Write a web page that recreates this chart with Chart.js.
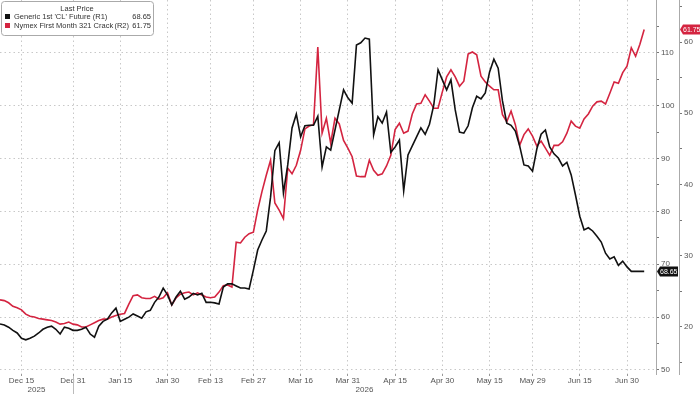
<!DOCTYPE html>
<html>
<head>
<meta charset="utf-8">
<script src="https://cdn.jsdelivr.net/npm/chart.js@4.4.1/dist/chart.umd.min.js"></script>
<style>
  html,body{margin:0;padding:0;background:#fff}
  #wrap{width:700px;height:394px;position:relative}
</style>
</head>
<body>
<div id="wrap"><canvas id="c" width="700" height="394"></canvas></div>
<script>
/* ---- data (one value per trading day, starting startDate) ---- */
const startDate='2025-12-08';
const clFuture=[58.7,58.5,58.1,57.5,57.0,56.0,55.7,56.0,56.4,57.0,
  57.7,58.1,58.3,57.7,56.8,58.1,57.9,57.5,57.5,57.7,
  58.1,56.8,56.2,58.3,59.2,59.6,60.8,61.7,59.2,59.6,
  60.0,60.6,60.2,59.8,61.0,61.3,62.8,63.8,65.5,64.2,
  62.3,63.8,64.9,63.4,63.8,64.5,64.2,64.5,62.8,62.8,
  62.7,62.5,65.7,66.3,66.3,65.9,65.5,65.5,65.3,68.9,
  72.7,74.6,76.3,82.7,91.5,93.0,83.5,88.8,95.8,98.4,
  94.1,96.2,96.3,96.3,98.0,88.4,92.2,91.6,95.4,99.2,
  103.0,101.5,100.5,111.5,111.9,112.8,112.6,94.5,97.9,96.7,
  98.8,91.2,92.2,93.5,83.9,90.7,92.4,94.1,95.8,94.6,
  96.5,100.1,106.8,104.9,103.0,104.9,99.2,95.0,94.8,96.2,
  99.6,101.8,101.3,102.4,106.4,108.8,107.1,100.9,96.7,96.3,
  95.2,92.4,88.8,88.6,87.6,91.8,94.6,95.4,92.2,90.9,
  90.1,88.6,89.3,86.9,83.1,79.1,76.5,76.9,76.3,75.3,
  74.2,72.1,71.0,71.4,69.8,70.6,69.5,68.65,68.65,68.65,
  68.65];
const crack321=[23.8,23.7,23.4,22.9,22.7,22.4,21.8,21.5,21.4,21.2,
  21.1,21.0,20.9,20.7,20.4,20.5,20.7,20.4,20.3,20.0,
  20.0,20.3,20.6,20.9,21.1,21.1,21.4,21.6,21.8,21.9,
  23.2,24.4,24.5,24.1,24.0,24.0,24.3,23.9,24.1,24.8,
  23.1,24.1,24.6,24.8,24.9,24.5,24.8,24.5,24.2,24.1,
  24.2,24.9,25.8,25.9,25.6,31.9,31.8,32.6,33.1,33.3,
  36.4,39.0,41.3,43.4,37.4,36.4,35.2,42.3,41.5,42.7,
  44.8,47.8,48.2,48.4,59.3,47.2,49.3,45.8,49.3,48.5,
  46.2,45.1,43.9,41.2,41.1,41.1,43.4,42.0,41.3,41.5,
  42.6,44.1,47.7,48.6,47.2,47.5,49.9,51.3,51.4,52.6,
  51.7,50.7,50.7,53.0,55.1,56.1,55.1,53.8,54.5,58.3,
  58.6,58.2,55.2,54.4,53.8,53.3,53.3,49.8,48.8,50.3,
  48.4,45.5,47.0,47.8,46.8,45.4,46.1,45.1,44.1,45.5,
  45.5,46.0,47.2,48.9,48.2,47.9,49.2,49.9,51.0,51.6,
  51.7,51.3,52.8,54.4,54.2,55.7,56.6,59.2,58.0,59.7,
  61.75];
const tickDates=['2025-12-15','2025-12-31','2026-01-15','2026-01-30','2026-02-13','2026-02-27',
  '2026-03-16','2026-03-31','2026-04-15','2026-04-30','2026-05-15','2026-05-29','2026-06-15','2026-06-30'];
const tickLabels=['Dec 15','Dec 31','Jan 15','Jan 30','Feb 13','Feb 27','Mar 16','Mar 31',
  'Apr 15','Apr 30','May 15','May 29','Jun 15','Jun 30'];
const yearLabels=['2025','2026'];
const r1Ticks=[50,55,60,65,70,75,80,85,90,95,100,105,110,115];
const r2Ticks=[15,20,25,30,35,40,45,50,55,60,65];
const seriesNames=["Generic 1st 'CL' Future (R1)",'Nymex First Month 321 Crack'];
const lastCL=68.65, lastCrack=61.75;

/* ---- helpers ---- */
function bizDays(start,n){
  const out=[];const d=new Date(start+'T00:00:00Z');
  while(out.length<n){const w=d.getUTCDay();if(w>0&&w<6)out.push(d.toISOString().slice(0,10));d.setUTCDate(d.getUTCDate()+1);}
  return out;
}
const dates=bizDays(startDate,clFuture.length);
const tickIdx=tickDates.map(d=>dates.indexOf(d));
const sepIdx=dates.findIndex(d=>d.slice(0,4)===yearLabels[1])-1;
const FONT="'Liberation Sans', Arial, sans-serif";
const gridCol='#c8c8c8', txtCol='#555', RED='#d42440', BLK='#111';
const noPad=s=>{s.paddingTop=0;s.paddingBottom=0;s.paddingLeft=0;s.paddingRight=0;};
const fmt=v=>v.toFixed(2);

function tag(ctx,x0,x1,yc,bg,text){
  ctx.fillStyle=bg;ctx.beginPath();
  ctx.moveTo(x0,yc);ctx.lineTo(x0+3,yc-5);ctx.lineTo(x1,yc-5);ctx.lineTo(x1,yc+5);ctx.lineTo(x0+3,yc+5);ctx.closePath();ctx.fill();
  ctx.fillStyle='#fff';ctx.font='7px '+FONT;ctx.textAlign='left';ctx.textBaseline='middle';
  ctx.fillText(text,x0+3,yc+0.5);
}

const extras={
  id:'extras',
  afterDraw(chart){
    const {ctx,chartArea:a,scales:{x,y,y2}}=chart;
    ctx.save();
    // year row + separator
    const xs=x.getPixelForValue(sepIdx);
    ctx.strokeStyle='#bbb';ctx.lineWidth=1;ctx.beginPath();ctx.moveTo(Math.round(xs)+0.5,a.bottom+2);ctx.lineTo(Math.round(xs)+0.5,394);ctx.stroke();
    ctx.fillStyle=txtCol;ctx.font='8px '+FONT;ctx.textAlign='center';ctx.textBaseline='middle';
    ctx.fillText(yearLabels[0],(a.left+xs)/2,390);
    ctx.fillText(yearLabels[1],(xs+a.right)/2,390);
    // last value tags
    tag(ctx,y.left+1,y2.left-1,y.getPixelForValue(lastCL),BLK,fmt(lastCL));
    tag(ctx,y2.left+1,702,y2.getPixelForValue(lastCrack),RED,fmt(lastCrack));
    // legend box
    ctx.fillStyle='#fff';ctx.strokeStyle='#aaa';ctx.lineWidth=1;
    ctx.beginPath();ctx.roundRect(1.5,1.5,152,34,3);ctx.fill();ctx.stroke();
    ctx.fillStyle='#333';ctx.font='7.5px '+FONT;ctx.textBaseline='middle';
    ctx.textAlign='center';ctx.fillText('Last Price',77,9);
    ctx.fillStyle=BLK;ctx.fillRect(5,14,5,5);
    ctx.fillStyle=RED;ctx.fillRect(5,23,5,5);
    ctx.fillStyle='#333';ctx.textAlign='left';
    ctx.fillText(seriesNames[0],14,17);
    ctx.fillText(seriesNames[1],14,26);
    ctx.textAlign='right';
    ctx.fillText('(R2)',129,26);
    ctx.fillText(fmt(lastCL),151,17);
    ctx.fillText(fmt(lastCrack),151,26);
    ctx.restore();
  }
};

new Chart(document.getElementById('c'),{
  type:'line',
  data:{datasets:[
    {label:seriesNames[0],data:clFuture.map((v,i)=>({x:i,y:v})),yAxisID:'y',borderColor:BLK,borderWidth:1.6,pointRadius:0,tension:0},
    {label:seriesNames[1],data:crack321.map((v,i)=>({x:i,y:v})),yAxisID:'y2',borderColor:RED,borderWidth:1.6,pointRadius:0,tension:0}
  ]},
  plugins:[extras],
  options:{
    responsive:false,animation:false,
    layout:{padding:0},
    plugins:{legend:{display:false},tooltip:{enabled:false}},
    scales:{
      x:{type:'linear',min:0,max:152.75,
        afterBuildTicks:s=>{s.ticks=tickIdx.map(v=>({value:v}));},
        afterFit:s=>{s.height=20;noPad(s);},
        grid:{color:gridCol,tickLength:2,tickColor:'#999'},
        border:{display:false,dash:[1.5,3]},
        ticks:{autoSkip:false,maxRotation:0,padding:0,color:txtCol,font:{family:FONT,size:8},
          callback:v=>tickLabels[tickIdx.indexOf(v)]}},
      y:{position:'right',weight:0,min:49.24,max:120,
        afterBuildTicks:s=>{s.ticks=r1Ticks.map(v=>({value:v}));},
        afterFit:s=>{s.width=23;noPad(s);},
        grid:{color:c=>c.tick&&c.tick.value%10===0?gridCol:'rgba(0,0,0,0)',tickColor:'#777',tickLength:3},
        border:{display:true,color:'#aaa',dash:[1.5,3]},
        ticks:{padding:2,color:txtCol,font:{family:FONT,size:8},callback:v=>v%10===0?String(v):''}},
      y2:{position:'right',weight:1,min:13.4,max:65.9,
        afterBuildTicks:s=>{s.ticks=r2Ticks.map(v=>({value:v}));},
        afterFit:s=>{s.width=21;noPad(s);},
        grid:{drawOnChartArea:false,tickColor:'#777',tickLength:3},
        border:{display:true,color:'#aaa'},
        ticks:{padding:2,color:txtCol,font:{family:FONT,size:8},callback:v=>v%10===0?String(v):''}}
    }
  }
});
</script>
</body>
</html>
